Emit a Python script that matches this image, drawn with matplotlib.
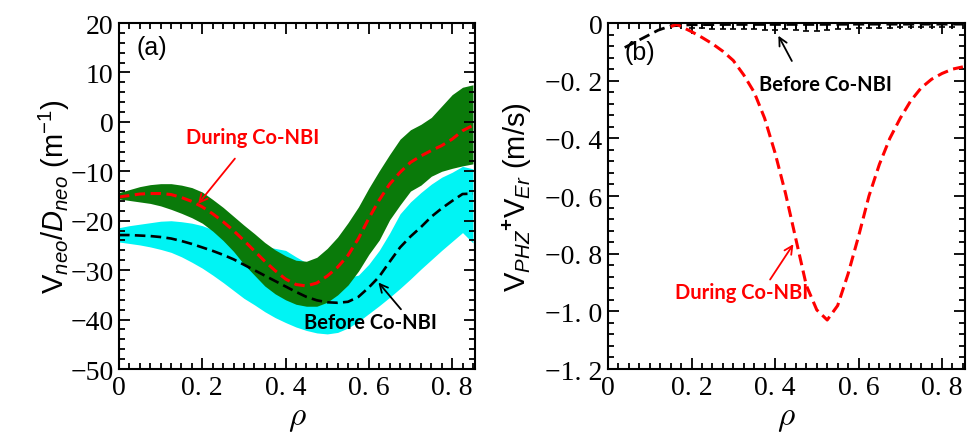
import numpy as np
import matplotlib
matplotlib.use('Agg')
import matplotlib.pyplot as plt
from matplotlib.ticker import MultipleLocator

plt.rcParams['font.family'] = 'Liberation Sans'
plt.rcParams['mathtext.fontset'] = 'custom'
plt.rcParams['mathtext.rm'] = 'Liberation Sans'
plt.rcParams['mathtext.it'] = 'Liberation Sans:italic'
plt.rcParams['mathtext.bf'] = 'Liberation Sans:bold'

MINUS = '\u2212'

# ---- (a) V_neo / D_neo profiles ----
rho_a = [0.000, 0.025, 0.050, 0.075, 0.100, 0.125, 0.150, 0.175, 0.200,
         0.225, 0.250, 0.275, 0.300, 0.325, 0.350, 0.375, 0.400, 0.425,
         0.450, 0.475, 0.500, 0.525, 0.550, 0.575, 0.600, 0.625, 0.650,
         0.675, 0.700, 0.725, 0.750, 0.775, 0.800, 0.825, 0.850]

during = [-15.2, -14.9, -14.6, -14.5, -14.5, -14.7, -15.3, -16.1, -17.2,
          -18.6, -20.2, -22.0, -24.0, -26.1, -28.2, -30.1, -31.8, -32.9,
          -33.2, -32.6, -31.2, -29.4, -27.0, -23.6, -19.5, -15.8, -12.6,
          -10.2, -8.2, -6.9, -5.8, -4.8, -3.5, -1.8, -0.7]
during_hi = [-14.3, -13.7, -13.1, -12.7, -12.5, -12.5, -12.8, -13.3, -14.2,
             -15.7, -17.3, -19.1, -20.9, -22.6, -24.4, -25.9, -27.1, -28.0,
             -28.2, -27.4, -25.6, -23.3, -20.4, -17.2, -13.4, -9.9, -6.6,
             -3.5, -1.6, -0.5, 0.9, 3.2, 5.5, 7.0, 7.5]
during_lo = [-15.6, -15.9, -16.2, -16.5, -17.0, -17.7, -18.5, -19.4, -20.5,
             -22.1, -24.0, -26.2, -28.8, -31.0, -33.2, -34.8, -36.0, -36.9,
             -37.3, -37.3, -36.5, -35.0, -33.0, -30.2, -26.8, -23.9, -19.8,
             -16.8, -14.0, -12.8, -11.0, -10.0, -9.4, -8.9, -8.5]

before = [-22.9, -22.9, -23.0, -23.1, -23.3, -23.6, -24.1, -24.7, -25.4,
          -26.1, -26.9, -27.8, -28.9, -30.0, -31.1, -32.2, -33.3, -34.4,
          -35.4, -36.1, -36.5, -36.6, -36.4, -35.4, -33.5, -31.3, -28.3,
          -25.4, -23.2, -21.3, -19.2, -17.5, -16.0, -14.6, -14.5]
before_hi = [-21.4, -21.0, -20.7, -20.4, -20.1, -20.0, -20.2, -20.5, -21.0,
             -21.8, -22.6, -23.4, -24.2, -24.8, -25.2, -25.6, -26.0, -27.3,
             -28.5, -29.5, -30.5, -31.3, -31.5, -31.0, -28.8, -26.0, -22.5,
             -18.6, -16.2, -14.3, -12.6, -11.2, -10.2, -9.0, -9.5]
before_lo = [-24.3, -24.6, -24.9, -25.3, -25.8, -26.4, -27.3, -28.4, -29.6,
             -31.0, -32.5, -34.1, -35.7, -37.0, -38.4, -39.6, -40.6, -41.5,
             -42.2, -42.7, -42.9, -42.6, -41.7, -40.4, -38.8, -37.2, -35.5,
             -33.7, -31.8, -29.8, -27.9, -26.0, -24.2, -22.4, -24.5]

# ---- (b) V_PHZ + V_Er profiles ----
rho_b_during = [0.150, 0.165, 0.200, 0.225, 0.250, 0.275, 0.300, 0.325, 0.350,
                0.375, 0.400, 0.425, 0.450, 0.475, 0.500, 0.525, 0.550, 0.575,
                0.600, 0.625, 0.650, 0.675, 0.700, 0.725, 0.750, 0.775, 0.800,
                0.825, 0.850]
vel_during = [-0.012, -0.005, -0.030, -0.050, -0.072, -0.098, -0.130, -0.180, -0.240,
              -0.330, -0.450, -0.590, -0.750, -0.910, -0.995, -1.030, -0.980, -0.870,
              -0.740, -0.600, -0.490, -0.400, -0.330, -0.270, -0.225, -0.195, -0.175,
              -0.160, -0.152]

rho_b_before = [0.04, 0.08, 0.12, 0.15, 0.20, 0.30, 0.40, 0.50, 0.60, 0.70, 0.80, 0.85]
vel_before = [-0.085, -0.055, -0.025, -0.010, -0.006, -0.005, -0.005, -0.005,
              -0.004, -0.004, -0.004, -0.004]

rho_b_err = [0.20, 0.225, 0.25, 0.275, 0.30, 0.325, 0.35, 0.375, 0.40, 0.425,
             0.45, 0.475, 0.50, 0.525, 0.55, 0.575, 0.60, 0.625, 0.65, 0.675,
             0.70, 0.725, 0.75, 0.775, 0.80, 0.825]
vel_b_err = [-0.006] * len(rho_b_err)
err_b = [0.012, 0.012, 0.014, 0.014, 0.016, 0.016, 0.016, 0.018, 0.018, 0.016,
         0.018, 0.020, 0.020, 0.018, 0.016, 0.014, 0.012, 0.010, 0.010, 0.010,
         0.008, 0.008, 0.008, 0.008, 0.008, 0.008]

xticks = [0, 0.2, 0.4, 0.6, 0.8]
xticklabels = ['0', '0. 2', '0. 4', '0. 6', '0. 8']
yticks_a = [20, 10, 0, -10, -20, -30, -40, -50]
yticklabels_a = ['20', '10', '0'] + [MINUS + str(abs(v)) for v in yticks_a[3:]]
yticks_b = [0, -0.2, -0.4, -0.6, -0.8, -1.0, -1.2]
yticklabels_b = ['0', MINUS + '0. 2', MINUS + '0. 4', MINUS + '0. 6',
                 MINUS + '0. 8', MINUS + '1. 0', MINUS + '1. 2']

note_font = dict(family='Lato', weight='bold', fontsize=14.5)


def style_axes(ax, yticks, ylabels, yminor):
    ax.set_xlim(0, 0.855)
    ax.set_xticks(xticks, labels=xticklabels, family='Liberation Serif', fontsize=20)
    ax.set_yticks(yticks, labels=ylabels, family='Liberation Serif', fontsize=20)
    ax.xaxis.set_minor_locator(MultipleLocator(0.025))
    ax.yaxis.set_minor_locator(MultipleLocator(yminor))
    ax.tick_params(which='both', direction='in', top=True, right=True, width=1.3)
    ax.tick_params(which='major', length=8, pad=4)
    ax.tick_params(which='minor', length=4)
    for s in ax.spines.values():
        s.set_linewidth(1.5)
    ax.set_xlabel(r'$\rho$', math_fontfamily='cm', fontsize=24, labelpad=2)


fig = plt.figure(figsize=(9.78, 4.35), dpi=100)
ax1 = fig.add_axes([0.1217, 0.1494, 0.364, 0.7954])
ax2 = fig.add_axes([0.6217, 0.1494, 0.365, 0.7954])

# panel (a): the black curve sits under the green band, red on top
ax1.fill_between(rho_a, before_lo, before_hi, color='#00f4f4', lw=0)
ax1.plot(rho_a, before, color='black', lw=1.9, dashes=(4, 2))
ax1.fill_between(rho_a, during_lo, during_hi, color='#0a7a0a', lw=0)
ax1.plot(rho_a, during, color='red', lw=2.2, dashes=(3.4, 1.8))
ax1.set_ylim(-50, 20)
style_axes(ax1, yticks_a, yticklabels_a, 2)
ax1.set_ylabel(r'$\mathrm{V}_{neo}/D_{neo}$ (m$^{-1}$)', fontsize=21, labelpad=-1)
ax1.text(0.079, 15.1, '(a)', fontsize=18, ha='center', va='center')
ax1.annotate('During Co-NBI', xy=(0.19, -16.6), xytext=(0.32, -3.1),
             color='red', ha='center', va='center', **note_font,
             arrowprops=dict(arrowstyle='->', color='red', lw=1.3,
                             shrinkA=8, shrinkB=0))
ax1.annotate('Before Co-NBI', xy=(0.623, -32.5), xytext=(0.603, -40.5),
             color='black', ha='center', va='center', **note_font,
             arrowprops=dict(arrowstyle='->', color='black', lw=1.3,
                             shrinkA=0, shrinkB=0,
                             relpos=(0.75, 1.0)))

# panel (b)
ax2.errorbar(rho_b_err, vel_b_err, yerr=err_b, fmt='none', ecolor='black',
             elinewidth=1.2, capsize=2.5, capthick=1.2)
ax2.plot(rho_b_before, vel_before, color='black', lw=2.0, dashes=(4, 2))
ax2.plot(rho_b_during, vel_during, color='red', lw=2.2, dashes=(3.6, 1.8))
ax2.set_ylim(-1.2, 0)
style_axes(ax2, yticks_b, yticklabels_b, 0.04)
ax2.set_ylabel(r'$\mathrm{V}_{PHZ}{}^{\mathbf{+}}\mathrm{V}_{Er}$ (m/s)',
               fontsize=21, labelpad=8)
ax2.text(0.077, -0.1, '(b)', fontsize=18, ha='center', va='center')
ax2.annotate('Before Co-NBI', xy=(0.408, -0.044), xytext=(0.52, -0.21),
             color='black', ha='center', va='center', **note_font,
             arrowprops=dict(arrowstyle='->', color='black', lw=1.3,
                             shrinkA=8, shrinkB=0, relpos=(0.3, 1.0)))
ax2.annotate('During Co-NBI', xy=(0.444, -0.767), xytext=(0.32, -0.934),
             color='red', ha='center', va='center', **note_font,
             arrowprops=dict(arrowstyle='->', color='red', lw=1.3,
                             shrinkA=0, shrinkB=0, relpos=(0.7, 1.0)))

fig.savefig('out.png', dpi=100)
